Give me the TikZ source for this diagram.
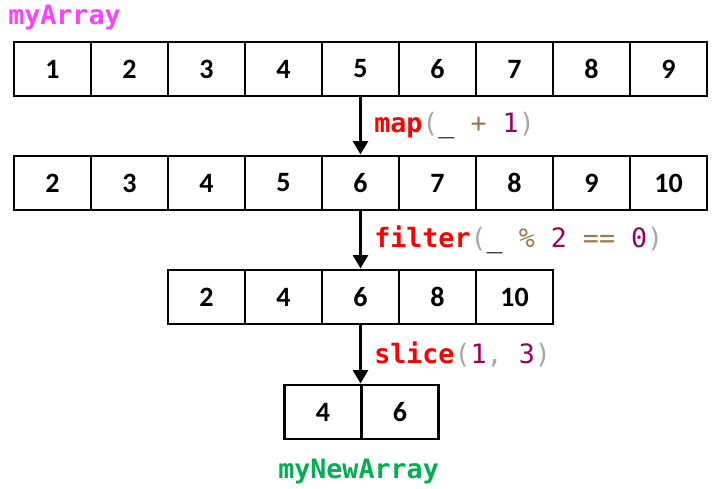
\documentclass[tikz,border=0pt]{standalone}
\usepackage{fontspec}
\setmainfont{Carlito}
\newfontfamily\codefont{DejaVu Sans Mono}
\usetikzlibrary{arrows.meta}
\definecolor{cmag}{HTML}{FF40FF}
\definecolor{cred}{HTML}{FF0000}
\definecolor{cgray}{HTML}{A6A6A6}
\definecolor{cbrown}{HTML}{A07845}
\definecolor{cpurple}{HTML}{990066}
\definecolor{cgreen}{HTML}{00B050}
\tikzset{
  cell/.style={draw=black, line width=2.2pt, minimum width=57.75pt, minimum height=40.5pt,
    inner sep=0pt, font=\fontsize{21}{21}\selectfont\bfseries},
  flow/.style={line width=2.3pt, -{Triangle[width=11pt,length=10pt]}},
  code/.style={anchor=base west, inner sep=0pt, font=\codefont\fontsize{20}{20}\selectfont},
}
\begin{document}
\begin{tikzpicture}[x=0.75pt,y=-0.75pt]
\useasboundingbox (0,0) rectangle (712,488);
% row 1
\foreach \v [count=\i] in {1,...,9}
  \node[cell] (a\i) at ({14+77*(\i-0.5)},69) {\v};
% row 2
\foreach \v [count=\i] in {2,...,10}
  \node[cell] (b\i) at ({14+77*(\i-0.5)},183) {\v};
% row 3
\foreach \v [count=\i] in {2,4,6,8,10}
  \node[cell] (c\i) at ({168+77*(\i-0.5)},297) {\v};
% row 4
\foreach \v [count=\i] in {4,6}
  \node[cell] (d\i) at ({284.5+77*(\i-0.5)},412) {\v};
\draw[flow] (a5.south) -- (b5.north);
\draw[flow] (b5.south) -- (c3.north);
\draw[flow] (c3.south) -- (c3.south |- d1.north east);
\node[code] (t0) at (8,25) {\textcolor{cmag}{\bfseries myArray}};
\node[code] (t1) at (374,133) {\textcolor{cred}{\bfseries map}\textcolor{cgray}{(}\textcolor{black}{\_} \textcolor{cbrown}{+} \textcolor{cpurple}{1}\textcolor{cgray}{)}};
\node[code] (t2) at (374,247) {\textcolor{cred}{\bfseries filter}\textcolor{cgray}{(}\textcolor{black}{\_} \textcolor{cbrown}{\%} \textcolor{cpurple}{2} \textcolor{cbrown}{==} \textcolor{cpurple}{0}\textcolor{cgray}{)}};
\node[code] (t3) at (374,363) {\textcolor{cred}{\bfseries slice}\textcolor{cgray}{(}\textcolor{cpurple}{1}\textcolor{cgray}{,} \textcolor{cpurple}{3}\textcolor{cgray}{)}};
\node[code] (t4) at (278,478) {\textcolor{cgreen}{\bfseries myNewArray}};
\end{tikzpicture}
\end{document}
